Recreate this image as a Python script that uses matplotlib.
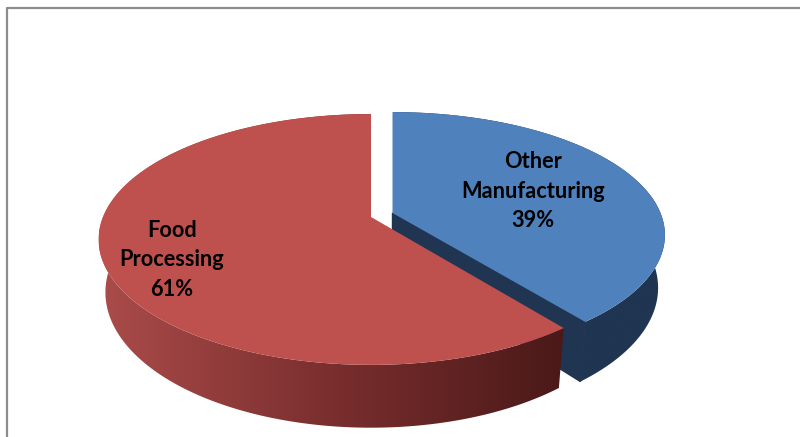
import numpy as np
import matplotlib
matplotlib.use("Agg")
import matplotlib.pyplot as plt
from matplotlib.patches import Polygon
from matplotlib.colors import LinearSegmentedColormap

categories = ["Other Manufacturing", "Food Processing"]
shares = [39.4, 60.6]
top_colors = ["#4F81BD", "#BE504E"]
wall_colors = [["#1F3552", "#1F3552"], ["#AA4C4A", "#7A2E2E", "#4A1918"]]

# apex of each slice, pixels
apex = [(392.5, 213), (371, 217)]
squash = [0.98, 1.0]
label_pos = [(533, 191), (172, 260)]

A, B, K = 268, 121.4, 0.179
DEPTH, SX, SY = 51, 0.975, 1.08


def rim(t, cx, cy, sq):
    # perspective circle, t clockwise from the top
    w = 1 + K * np.cos(t)
    return cx + A * np.sin(t) / w, cy - sq * B * np.cos(t) / w


def drop(x, y, cx, cy):
    return cx + (x - cx) * SX, cy + DEPTH + (y - cy) * SY


def shaded(ax, pts, colors, x0, x1):
    cmap = LinearSegmentedColormap.from_list("wall", colors)
    img = ax.imshow(np.linspace(0, 1, 256)[None, :], cmap=cmap, aspect="auto",
                    extent=(x0, x1, 437, 0), zorder=ax.zo)
    ax.zo += 1
    patch = Polygon(pts, closed=True, transform=ax.transData, fc="none", ec="none")
    ax.add_patch(patch)
    img.set_clip_path(patch)


fig = plt.figure(figsize=(8, 4.37), dpi=100)
ax = fig.add_axes([0, 0, 1, 1])
ax.zo = 2
ax.set_xlim(0, 800)
ax.set_ylim(437, 0)
ax.axis("off")

# chart frame, the right side is cut off in the picture
ax.plot([6.5, 6.5, 800], [437, 7.5, 7.5], color="#8C8C8C", lw=1.6, zorder=1)

edges = np.cumsum([0] + shares) / sum(shares) * 2 * np.pi

for i in range(len(shares)):
    cx, cy = apex[i]
    t = np.linspace(edges[i], edges[i + 1], 300)
    x, y = rim(t, cx, cy, squash[i])
    bx, by = drop(x, y, cx, cy)

    # outer wall, then the cut face, then the top
    rim_pts = np.r_[np.c_[x, y], np.c_[bx, by][::-1]]
    shaded(ax, rim_pts, wall_colors[i], x.min(), x.max())

    if i == 0:
        cut = [(cx, cy), (x[-1], y[-1]), (bx[-1], by[-1]), drop(cx, cy, cx, cy)]
        ax.add_patch(Polygon(cut, closed=True, fc=wall_colors[i][0], ec=wall_colors[i][0],
                             lw=1, zorder=ax.zo))
        ax.zo += 1

    top = np.r_[[[cx, cy]], np.c_[x, y]]
    ax.add_patch(Polygon(top, closed=True, fc=top_colors[i], ec="none", zorder=ax.zo))
    ax.zo += 1

    ax.text(label_pos[i][0], label_pos[i][1],
            f"{categories[i].replace(' ', chr(10))}\n{round(shares[i])}%",
            ha="center", va="center", family="Lato", weight="bold", fontsize=15.7,
            linespacing=1.52, color="black", zorder=50)

fig.savefig("out.png", dpi=100)
